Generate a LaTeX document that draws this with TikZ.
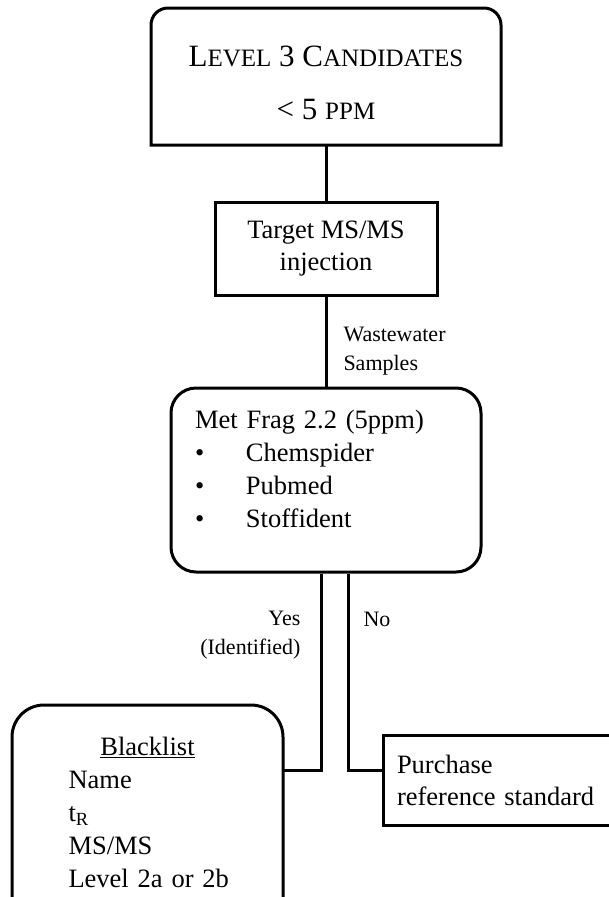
\documentclass[tikz,border=0pt]{standalone}
\usepackage{fontspec}
\setmainfont{Liberation Serif}
\newcommand{\smallcap}[1]{{\fontsize{25}{25}\selectfont #1}}
\tikzstyle{roundtop} = [rectangle, minimum width = 350pt, minimum height = 137pt, text centered, align = center, outer sep = 0pt, font = \fontsize{31}{53}\selectfont]
\tikzstyle{process} = [rectangle, minimum width = 222pt, minimum height = 93pt, text centered, align = center, draw = black, font = \fontsize{26.5}{32}\selectfont]
\tikzstyle{search} = [rectangle, rounded corners = 25pt, minimum height = 184pt, text width = 262pt, inner xsep = 24pt, align = left, draw = black, font = \fontsize{26.5}{33}\selectfont]
\tikzstyle{result} = [rectangle, minimum height = 215pt, text width = 158pt, inner xsep = 56.5pt, align = left, outer sep = 0pt, font = \fontsize{26.5}{33}\selectfont]
\tikzstyle{buy} = [rectangle, minimum height = 90pt, text width = 232pt, inner xsep = 14pt, align = left, draw = black, font = \fontsize{26.5}{32}\selectfont]
\tikzstyle{tag} = [inner sep = 0pt, font = \fontsize{22}{29}\selectfont]

\begin{document}
\begin{tikzpicture}[x = 1pt, y = -1pt, line width = 3pt, node distance = 172pt]
    \fill[white](0,0) rectangle (609,897);
    \useasboundingbox (0,0) rectangle (609,897);
    \clip (0,0) rectangle (609,897);
    % \node(label)[style]{text};
    \node(lvl)[roundtop] at (326,76.5){\rule{0pt}{34pt}L\smallcap{EVEL} 3 C\smallcap{ANDIDATES}\\< 5 \smallcap{PPM}};
    \node(tgt)[process, below of = lvl]{Target MS/MS\\injection};
    \node(met)[search, below of = tgt, yshift = -59.5pt]{Met Frag 2.2 (5ppm)\\
        \makebox[51pt][l]{\textbullet}Chemspider\\
        \makebox[51pt][l]{\textbullet}Pubmed\\
        \makebox[51pt][l]{\textbullet}Stoffident\rule[-22pt]{0pt}{1pt}};
    \node(blk)[result, below of = met, xshift = -178.5pt, yshift = -160.5pt]{\makebox[\hsize]{\underline{Blacklist}}\\Name\\t\textsubscript{R}\\MS/MS\\\mbox{Level 2a or 2b}};
    \node(pur)[buy, below of = met, xshift = 187pt, yshift = -128pt]{Purchase\\reference standard};
    \coordinate(split) at (0,770);

    % boxes with two round corners on top
    \draw(lvl.south west)--([yshift = -17pt]lvl.north west) arc[start angle = 180, end angle = 90, radius = 17pt]--([xshift = -17pt]lvl.north east) arc[start angle = 90, end angle = 0, radius = 17pt]--(lvl.south east)--cycle;
    \draw(blk.south west)--([yshift = -32pt]blk.north west) arc[start angle = 180, end angle = 90, radius = 32pt]--([xshift = -32pt]blk.north east) arc[start angle = 90, end angle = 0, radius = 32pt]--(blk.south east)--cycle;

    \draw(lvl)--(tgt);
    \draw(tgt)--node[tag, midway, anchor = west, align = left, xshift = 16pt, yshift = -9.5pt]{Wastewater\\Samples}(met);
    \draw([xshift = -5pt]met.south)|-node[tag, pos = 0.156, anchor = east, align = right, xshift = -19pt]{Yes\\(Identified)}(blk.east |- split);
    \draw([xshift = 22.5pt]met.south)|-node[tag, pos = 0.118, anchor = west, xshift = 13.5pt]{No}(pur.west |- split);
\end{tikzpicture}
\end{document}
